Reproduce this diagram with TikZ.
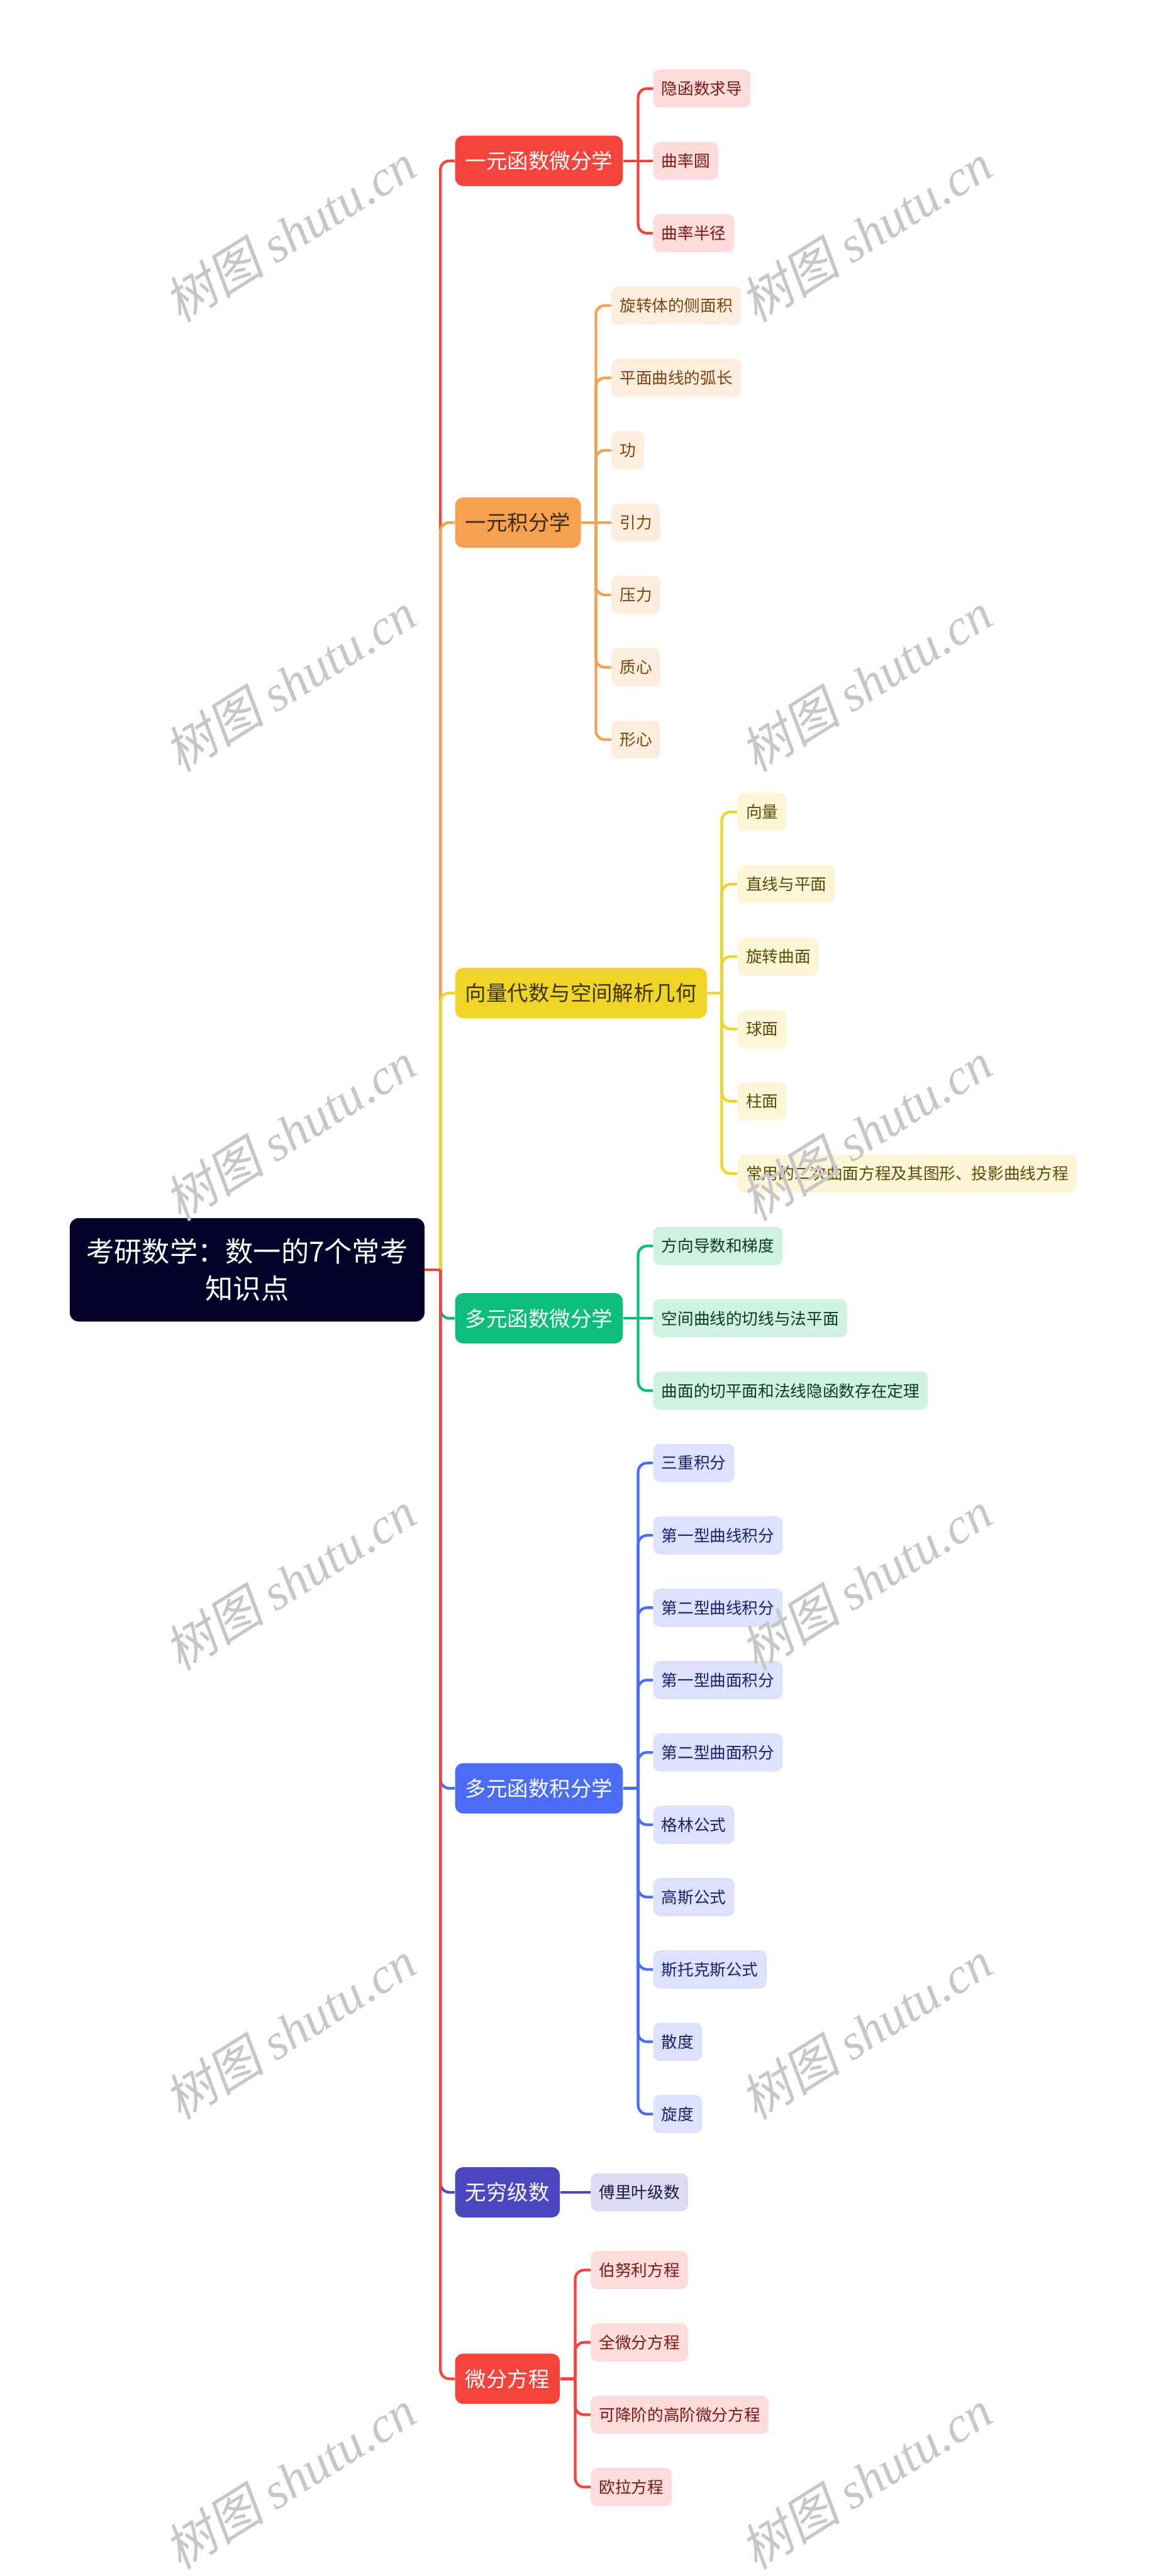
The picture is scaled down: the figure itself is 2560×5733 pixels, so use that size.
\documentclass[tikz,border=0pt]{standalone}
\usepackage{fontspec}
\setmainfont{Noto Sans CJK SC}
\newfontfamily\wmlat{Liberation Serif}
\newfontfamily\wmcjk[FakeSlant=0.2]{Noto Sans CJK SC}
\definecolor{cRed}{HTML}{F5443B}
\definecolor{cRedL}{HTML}{FDDCDB}
\definecolor{cRedT}{HTML}{7A1814}
\definecolor{cOra}{HTML}{F5A14D}
\definecolor{cOraL}{HTML}{FDEDDD}
\definecolor{cOraT}{HTML}{7A4510}
\definecolor{cOraMT}{HTML}{3C2A16}
\definecolor{cYel}{HTML}{F0D426}
\definecolor{cYelL}{HTML}{FCF6D6}
\definecolor{cYelT}{HTML}{5B4A08}
\definecolor{cYelMT}{HTML}{3A3412}
\definecolor{cGrn}{HTML}{0DBD7B}
\definecolor{cGrnL}{HTML}{CFF2E3}
\definecolor{cGrnT}{HTML}{0B3A29}
\definecolor{cBlu}{HTML}{4A6CF7}
\definecolor{cBluL}{HTML}{DCE2FC}
\definecolor{cBluT}{HTML}{17236E}
\definecolor{cInd}{HTML}{4B48BF}
\definecolor{cIndL}{HTML}{DDDBF2}
\definecolor{cIndT}{HTML}{1B1947}
\definecolor{cRoot}{HTML}{020229}
\tikzset{
  rootbox/.style={fill=cRoot, text=white, rounded corners=0.2cm, align=center,
    font=\fontsize{17.6pt}{23.3pt}\selectfont, minimum width=7.89cm, minimum height=2.3cm, inner sep=0pt},
  mainbox/.style={rounded corners=0.18cm, font=\fontsize{13.3pt}{16pt}\selectfont,
    inner xsep=0.23cm, inner ysep=0pt, minimum height=1.12cm, anchor=west},
  leafbox/.style={rounded corners=0.15cm, font=\fontsize{10.2pt}{12pt}\selectfont,
    inner xsep=0.185cm, inner ysep=0pt, minimum height=0.85cm, anchor=west},
  lR/.style={leafbox, fill=cRedL, text=cRedT},
  lO/.style={leafbox, fill=cOraL, text=cOraT},
  lY/.style={leafbox, fill=cYelL, text=cYelT},
  lG/.style={leafbox, fill=cGrnL, text=cGrnT},
  lB/.style={leafbox, fill=cBluL, text=cBluT},
  lI/.style={leafbox, fill=cIndL, text=cIndT},
  conn/.style={line width=1.7pt, rounded corners=0.2cm},
  wm/.style={text=black!22, rotate=32, font=\fontsize{32pt}{36pt}\selectfont, inner sep=0pt}
}
\begin{document}
\begin{tikzpicture}[x=0.01cm, y=-0.01cm]
\useasboundingbox (0,0) rectangle (2560,5733);
% root
\node[rootbox] (root) at (550,2826) {考研数学：数一的7个常考\\知识点};
% main topics
\node[mainbox, fill=cRed, text=white] (m1) at (1012,358) {一元函数微分学};
\node[mainbox, fill=cOra, text=cOraMT] (m2) at (1012,1163) {一元积分学};
\node[mainbox, fill=cYel, text=cYelMT] (m3) at (1012,2210) {向量代数与空间解析几何};
\node[mainbox, fill=cGrn, text=white] (m4) at (1012,2934) {多元函数微分学};
\node[mainbox, fill=cBlu, text=white] (m5) at (1012,3980) {多元函数积分学};
\node[mainbox, fill=cInd, text=white] (m6) at (1012,4879) {无穷级数};
\node[mainbox, fill=cRed, text=white] (m7) at (1012,5294) {微分方程};
% leaves
\foreach \t [count=\i] in {隐函数求导,曲率圆,曲率半径}
  \node[lR] (a\i) at (1453,{197+161*(\i-1)}) {\t};
\foreach \t [count=\i] in {旋转体的侧面积,平面曲线的弧长,功,引力,压力,质心,形心}
  \node[lO] (b\i) at (1360,{680+161*(\i-1)}) {\t};
\foreach \t [count=\i] in {向量,直线与平面,旋转曲面,球面,柱面,常用的二次曲面方程及其图形、投影曲线方程}
  \node[lY] (c\i) at (1641,{1807+161*(\i-1)}) {\t};
\foreach \t [count=\i] in {方向导数和梯度,空间曲线的切线与法平面,曲面的切平面和法线隐函数存在定理}
  \node[lG] (d\i) at (1453,{2773+161*(\i-1)}) {\t};
\foreach \t [count=\i] in {三重积分,第一型曲线积分,第二型曲线积分,第一型曲面积分,第二型曲面积分,格林公式,高斯公式,斯托克斯公式,散度,旋度}
  \node[lB] (e\i) at (1453,{3256+161*(\i-1)}) {\t};
\node[lI] (f1) at (1314,4879) {傅里叶级数};
\foreach \t [count=\i] in {伯努利方程,全微分方程,可降阶的高阶微分方程,欧拉方程}
  \node[lR] (g\i) at (1314,{5052+161*(\i-1)}) {\t};
% spine
\coordinate (sp) at (980,2826);
\foreach \m/\c in {m1/cRed,m2/cOra,m3/cYel,m4/cGrn,m5/cBlu,m6/cInd,m7/cRed}{
  \draw[conn, draw=\c] (root.east) -- (sp);
  \draw[conn, draw=\c] (sp) |- (\m.west);
}
% junctions
\coordinate (j1) at (1420,358);
\coordinate (j2) at (1326,1163);
\coordinate (j3) at (1606,2210);
\coordinate (j4) at (1420,2934);
\coordinate (j5) at (1420,3980);
\coordinate (j7) at (1280,5294);
\draw[conn, draw=cRed] (m1.east) -- (j1);
\draw[conn, draw=cRed] (j1) |- (a1.west);
\draw[conn, draw=cRed] (j1) -- (a2.west);
\draw[conn, draw=cRed] (j1) |- (a3.west);
\draw[conn, draw=cOra] (m2.east) -- (j2);
\foreach \i in {1,2,3,5,6,7} \draw[conn, draw=cOra] (j2) |- (b\i.west);
\draw[conn, draw=cOra] (j2) -- (b4.west);
\draw[conn, draw=cYel] (m3.east) -- (j3);
\foreach \i in {1,...,6} \draw[conn, draw=cYel] (j3) |- (c\i.west);
\draw[conn, draw=cGrn] (m4.east) -- (j4);
\draw[conn, draw=cGrn] (j4) |- (d1.west);
\draw[conn, draw=cGrn] (j4) -- (d2.west);
\draw[conn, draw=cGrn] (j4) |- (d3.west);
\draw[conn, draw=cBlu] (m5.east) -- (j5);
\foreach \i in {1,...,10} \draw[conn, draw=cBlu] (j5) |- (e\i.west);
\draw[conn, draw=cInd] (m6.east) -- (f1.west);
\draw[conn, draw=cRed] (m7.east) -- (j7);
\foreach \i in {1,...,4} \draw[conn, draw=cRed] (j7) |- (g\i.west);
% watermarks
\foreach \r in {0,...,5}{
  \node[wm] (wa\r) at (645,{518+1000*\r}) {{\wmcjk 树图} {\wmlat\itshape shutu.cn}};
  \node[wm] (wb\r) at (1927,{518+1000*\r}) {{\wmcjk 树图} {\wmlat\itshape shutu.cn}};
}
\end{tikzpicture}
\end{document}
